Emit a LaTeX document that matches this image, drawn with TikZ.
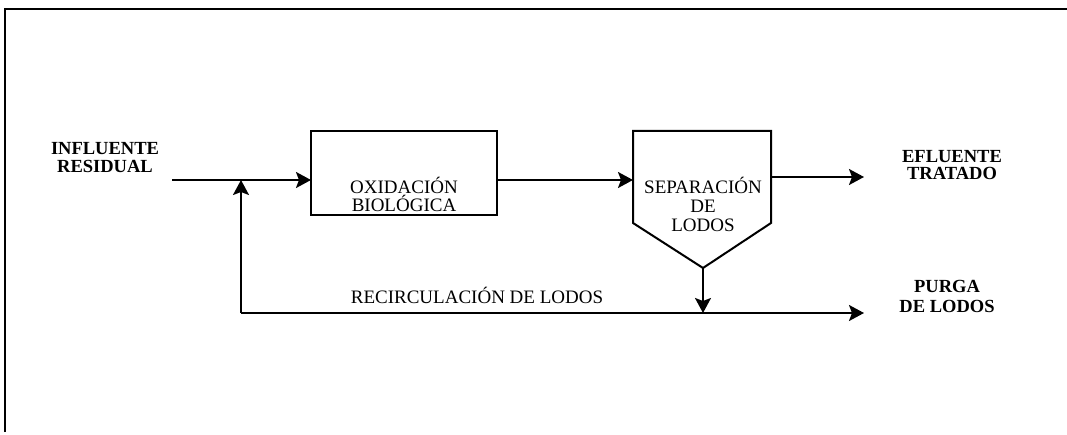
\documentclass[tikz,border=0pt]{standalone}
\usepackage{fontspec}
\setmainfont{Liberation Serif}
\usetikzlibrary{arrows.meta}
\begin{document}
\begin{tikzpicture}[x=1pt,y=-1pt,
  flow/.style={line width=2pt,-{Stealth[length=15pt,width=16pt,inset=3pt]}},
  plain/.style={line width=2pt},
  lbl/.style={inner sep=0pt,align=center,font=\fontsize{18.5}{17.5}\selectfont\bfseries},
  txt/.style={inner sep=0pt,align=center,font=\fontsize{19}{17.5}\selectfont},
  framel/.style={line width=1.8pt}]
\useasboundingbox (0,0) rectangle (1067,435);
% frame
\coordinate (fbl) at (5,432);
\coordinate (ftl) at (5,9);
\coordinate (ftr) at (1067,9);
\draw[framel] (fbl) -- (ftl) -- (ftr);
% boxes
\node[draw,line width=2pt,minimum width=186pt,minimum height=84pt,inner sep=0pt] (ox) at (404,173) {};
\node[txt] (oxt) at (404,194.5) {OXIDACIÓN\\BIOLÓGICA};
\coordinate (s1) at (633,131);
\coordinate (s2) at (771,131);
\coordinate (s3) at (771,223);
\coordinate (sp) at (703,268);
\coordinate (s5) at (633,223);
\draw[plain,line join=miter] (s1) -- (s2) -- (s3) -- (sp) -- (s5) -- cycle;
\node[txt,font=\fontsize{19}{19}\selectfont] (sept) at (703,204) {SEPARACIÓN\\DE\\LODOS};
% labels
\node[lbl] (inf) at (105,157.5) {INFLUENTE\\RESIDUAL};
\node[lbl] (efl) at (952,165) {EFLUENTE\\TRATADO};
\node[lbl,font=\fontsize{18.5}{20}\selectfont\bfseries] (pur) at (947,296.5) {PURGA\\DE LODOS};
\node[txt,anchor=base] (rec) at (477,303) {RECIRCULACIÓN DE LODOS};
% coordinates
\coordinate (in0) at (172,180);
\coordinate (oxin) at (311,180);
\coordinate (oxout) at (497,180);
\coordinate (sepin) at (633,180);
\coordinate (sepout) at (771,177);
\coordinate (effend) at (864,177);
\coordinate (j1) at (241,180);
\coordinate (j2) at (241,313);
\coordinate (j3) at (703,313);
\coordinate (purend) at (864,313);
% connectors
\draw[flow] (in0) -- (oxin);
\draw[flow] (oxout) -- (sepin);
\draw[flow] (sepout) -- (effend);
\draw[flow] (sp) -- (j3);
\draw[flow] (j2) -- (purend);
\draw[flow] (j2) -- (j1);
\end{tikzpicture}
\end{document}
